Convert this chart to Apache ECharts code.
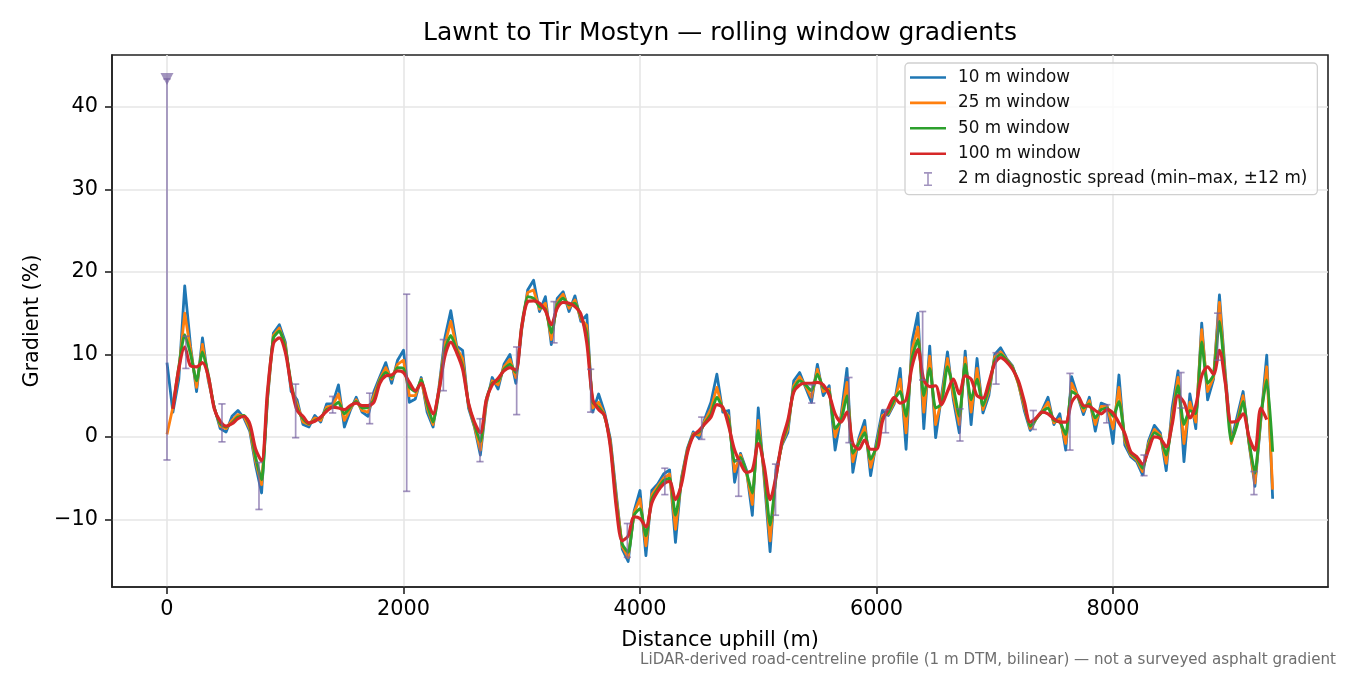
<!DOCTYPE html>
<html>
<head>
<meta charset="utf-8">
<title>Lawnt to Tir Mostyn — rolling window gradients</title>
<script src="https://cdn.jsdelivr.net/npm/echarts@6.0.0/dist/echarts.min.js"></script>
<style>
  html, body { margin: 0; padding: 0; background: #fff; }
  #chart { width: 1350px; height: 675px; }
</style>
</head>
<body>
<div id="chart"></div>
<script>
// sample spacing along the road (m)
const step = 50
const dist = []
for (let i = 0; i < 188; i++) dist.push(i * step)

// gradient (%) per rolling window, one value every 50 m
const w10 = [
  9.0, 3.0, 7.0, 18.3, 10.9, 5.5, 12.0, 6.8, 3.6, 1.0,
  0.6, 2.5, 3.2, 2.3, 0.7, -3.5, -6.8, 4.5, 12.6, 13.6,
  11.5, 5.5, 4.5, 1.5, 1.2, 2.6, 1.8, 4.0, 4.0, 6.3,
  1.2, 3.2, 4.8, 3.0, 2.5, 5.5, 7.3, 9.0, 6.5, 9.3,
  10.5, 4.2, 4.6, 7.2, 3.0, 1.2, 6.0, 12.0, 15.3, 11.0,
  10.5, 3.5, 1.2, -2.2, 4.0, 7.2, 5.8, 8.8, 10.0, 6.5,
  13.0, 17.8, 19.0, 15.2, 17.0, 11.2, 16.8, 17.6, 15.2, 17.1,
  14.0, 14.8, 3.0, 5.2, 3.0, -0.3, -7.0, -13.6, -15.1, -9.0,
  -6.5, -14.4, -6.5, -5.7, -4.5, -4.0, -12.8, -5.0, -1.4, 0.6,
  -0.2, 2.3, 4.2, 7.6, 3.0, 3.2, -5.5, -2.0, -4.0, -9.5,
  3.5, -5.0, -13.9, -4.0, -1.0, 0.5, 6.8, 7.8, 6.0, 4.2,
  8.8, 5.0, 6.2, -1.6, 2.6, 8.3, -4.3, -0.2, 2.0, -4.7,
  -0.5, 3.2, 2.6, 4.0, 8.3, -1.5, 11.5, 15.0, 1.0, 11.0,
  -0.1, 5.0, 10.3, 4.5, 0.5, 10.4, 1.5, 9.5, 2.9, 5.0,
  10.0, 10.8, 9.5, 8.6, 6.5, 3.2, 0.8, 2.2, 3.2, 4.8,
  1.5, 2.8, -1.6, 7.3, 5.0, 2.7, 4.8, 0.7, 4.1, 3.8,
  -0.8, 7.5, -1.0, -2.4, -3.0, -4.6, -0.5, 1.4, 0.5, -4.1,
  3.5, 8.0, -3.0, 5.2, 1.0, 13.8, 4.5, 7.0, 17.2, 7.6,
  -0.5, 2.5, 5.5, -0.8, -6.0, 2.0, 9.9, -7.5
]
const w25 = [
  0.3, 3.6, 8.0, 15.0, 10.5, 6.0, 11.2, 7.0, 3.5, 1.3,
  1.0, 2.0, 2.7, 2.5, 1.0, -3.0, -5.8, 4.8, 12.3, 13.2,
  11.2, 6.0, 4.0, 1.8, 1.5, 2.3, 2.0, 3.6, 3.8, 5.2,
  2.0, 3.4, 4.5, 3.2, 3.0, 5.0, 7.0, 8.4, 7.0, 8.8,
  9.3, 5.0, 5.0, 7.0, 3.5, 1.5, 5.8, 11.2, 14.0, 10.8,
  9.5, 3.8, 1.3, -1.6, 4.2, 6.8, 6.3, 8.5, 9.4, 7.2,
  13.2, 17.5, 17.8, 15.5, 16.2, 11.8, 16.4, 17.3, 15.6, 16.6,
  14.3, 13.5, 3.5, 4.2, 2.7, -0.6, -7.5, -13.3, -14.6, -9.2,
  -7.5, -13.2, -7.0, -6.0, -5.0, -4.5, -11.2, -5.2, -1.6, 0.4,
  0.2, 2.0, 3.4, 6.0, 3.3, 2.5, -4.2, -2.2, -4.3, -8.2,
  2.0, -4.5, -12.6, -4.5, -0.9, 1.0, 6.2, 7.3, 6.2, 4.8,
  8.2, 5.5, 5.8, 0.0, 2.3, 6.6, -3.0, -0.5, 1.2, -3.7,
  -1.0, 2.6, 2.8, 4.2, 7.0, 0.5, 10.5, 13.3, 3.0, 9.8,
  1.5, 4.5, 9.5, 5.0, 1.5, 9.6, 3.0, 8.3, 3.3, 5.5,
  9.7, 10.3, 9.4, 8.5, 6.4, 3.6, 1.0, 2.2, 3.1, 4.2,
  1.7, 2.2, -0.8, 6.5, 5.0, 3.1, 4.4, 1.5, 3.7, 3.7,
  1.0, 6.0, -0.5, -2.2, -2.8, -4.2, -0.8, 0.9, 0.2, -3.2,
  2.5, 7.2, -0.8, 4.2, 1.8, 13.0, 5.5, 7.2, 16.3, 7.2,
  -0.8, 1.8, 5.0, -0.7, -5.6, 2.2, 8.5, -6.4
]
const w50 = [
  null, 3.5, 8.5, 12.4, 10.0, 6.8, 10.3, 7.5, 3.5, 1.6,
  1.2, 1.7, 2.4, 2.6, 1.3, -2.5, -5.2, 5.0, 12.0, 12.8,
  10.8, 6.5, 3.5, 2.2, 1.6, 2.0, 2.3, 3.3, 3.6, 4.2,
  2.8, 3.6, 4.3, 3.5, 3.6, 4.5, 6.8, 7.8, 7.2, 8.4,
  8.3, 6.0, 5.5, 6.9, 4.0, 1.8, 5.5, 10.5, 12.3, 10.5,
  8.6, 4.0, 1.5, -0.6, 4.5, 6.5, 6.8, 8.2, 8.8, 7.8,
  13.5, 17.0, 16.8, 15.8, 15.5, 12.6, 16.0, 16.8, 16.0, 16.2,
  14.6, 12.5, 4.2, 3.6, 2.5, -1.0, -8.0, -13.0, -14.0, -9.5,
  -8.7, -12.0, -7.5, -6.3, -5.3, -5.0, -9.5, -5.5, -1.8, 0.2,
  0.6, 1.7, 2.8, 4.8, 3.5, 2.0, -3.0, -2.5, -4.3, -6.8,
  0.8, -4.0, -10.7, -5.0, -0.8, 1.5, 5.8, 6.8, 6.3, 5.6,
  7.6, 6.0, 5.5, 1.0, 2.0, 5.0, -2.0, -0.8, 0.5, -2.7,
  -1.2, 2.2, 3.0, 4.5, 5.5, 2.5, 9.5, 11.8, 5.0, 8.3,
  3.5, 4.0, 8.5, 6.0, 2.5, 8.8, 4.5, 7.0, 3.8, 6.0,
  9.3, 10.0, 9.3, 8.4, 6.6, 4.0, 1.3, 2.2, 3.0, 3.5,
  2.0, 1.8, 0.3, 5.5, 5.0, 3.5, 4.0, 2.3, 3.3, 3.5,
  2.5, 4.3, 0.0, -2.0, -2.6, -3.8, -1.2, 0.5, 0.0, -2.2,
  1.8, 6.2, 1.5, 3.2, 2.8, 11.5, 6.5, 7.5, 14.0, 6.8,
  -0.5, 1.5, 4.3, -0.5, -4.4, 2.5, 6.9, -1.8
]
const w100 = [
  null, 3.4, 8.3, 10.9, 8.6, 8.5, 9.0, 7.3, 3.4, 1.9,
  1.3, 1.6, 2.2, 2.5, 1.6, -1.5, -2.9, 5.5, 11.3, 12.0,
  10.3, 6.2, 3.2, 2.5, 1.7, 1.9, 2.4, 3.1, 3.6, 3.5,
  3.3, 3.8, 4.1, 3.8, 3.8, 4.2, 6.5, 7.4, 7.5, 8.0,
  7.8, 6.6, 5.6, 6.5, 4.5, 2.8, 5.6, 9.8, 11.5, 10.2,
  8.2, 4.1, 1.8, 0.5, 4.5, 6.3, 7.1, 8.0, 8.4, 8.1,
  13.4, 16.4, 16.5, 16.2, 15.3, 13.6, 15.6, 16.3, 16.2, 15.8,
  14.9, 11.4, 4.6, 3.3, 2.6, -1.3, -8.6, -12.6, -12.0, -9.7,
  -9.9, -10.9, -8.0, -6.6, -5.7, -5.4, -7.6, -5.8, -2.0, 0.1,
  0.8, 1.6, 2.4, 3.9, 3.6, 1.3, -1.6, -3.2, -4.3, -4.0,
  -0.8, -3.5, -7.6, -4.8, -0.5, 2.0, 5.4, 6.3, 6.5, 6.5,
  6.6, 6.3, 5.1, 2.8, 1.8, 3.0, -0.8, -1.5, -0.4, -1.5,
  -1.5, 1.9, 3.5, 4.8, 4.1, 4.5, 8.5, 10.6, 6.9, 6.1,
  6.2, 3.9, 5.5, 7.0, 5.2, 7.4, 7.0, 5.0, 4.7, 6.6,
  8.9, 9.6, 9.1, 8.2, 6.8, 4.3, 1.8, 2.3, 3.0, 2.8,
  2.2, 1.8, 1.8, 4.2, 5.0, 3.8, 3.7, 3.2, 2.8, 3.3,
  2.9, 1.7, 0.4, -1.8, -2.4, -3.3, -1.6, 0.0, -0.2, -1.2,
  1.5, 5.0, 4.2, 2.3, 3.8, 7.4, 8.5, 7.6, 10.5, 6.5,
  1.8, 1.9, 2.8, 0.0, -1.6, 3.5, 2.1, null
]

// 2 m diagnostic spread: min and max within +-12 m of each check point
const errDist = [0, 160, 465, 778, 1088, 1401, 1714, 2027, 2337, 2647, 2957, 3273, 3583, 3893, 4210,
  4522, 4834, 5146, 5452, 5767, 6077, 6390, 6706, 7011, 7326, 7636, 7947, 8262, 8575, 8885, 9192]
const errLow = [-2.8, 8.3, -0.6, -8.8, -0.1, 2.9, 1.6, -6.6, 5.6, -3.0, 2.7, 11.4, 3.0, -14.6, -7.0,
  -0.3, -7.2, -9.5, 4.1, -0.7, 0.5, 6.9, -0.5, 6.4, 0.9, -1.6, 1.7, -4.7, 3.5, 9.3, -7.0]
const errHigh = [43.4, 12.2, 4.0, -3.1, 6.4, 4.9, 5.3, 17.3, 11.8, 2.2, 10.9, 16.4, 8.2, -10.5, -3.8,
  2.4, -2.9, -3.3, 6.3, 7.2, 3.3, 15.2, 3.4, 10.2, 3.2, 7.7, 3.9, -2.2, 7.8, 15.0, -4.2]

const xTicks = [0, 2000, 4000, 6000, 8000]
const yTicks = [-10, 0, 10, 20, 30, 40]

const font = 'DejaVu Sans'
const errColor = 'rgba(118, 98, 160, 0.68)'
const lineIcon = 'path://M0,0h36v2.6h-36z'
const barIcon = 'path://M0,0h8v1.6h-3.2v10.8h3.2v1.6h-8v-1.6h3.2v-10.8h-3.2z'

// pair distances with values, drop the gaps at the ends
function pairs(values) {
  const out = []
  values.forEach((v, i) => { if (v !== null) out.push([dist[i], v]) })
  return out
}

function lineSeries(name, values, color, width, smooth, z) {
  return {
    name: name,
    type: 'line',
    data: pairs(values),
    showSymbol: false,
    smooth: smooth,
    z: z,
    itemStyle: { color: color },
    lineStyle: { color: color, width: width, join: 'round' }
  }
}

const dom = document.querySelector('#chart')
const myChart = echarts.init(dom)

const option = {
  animation: false,
  backgroundColor: '#fff',
  textStyle: { fontFamily: font },
  grid: {
    left: 112, right: 22, top: 55, bottom: 88,
    show: true, borderColor: '#222', borderWidth: 1.6, backgroundColor: 'transparent'
  },
  graphic: [
    {
      type: 'text', x: 720, y: 33,
      style: {
        text: 'Lawnt to Tir Mostyn — rolling window gradients',
        font: '25px "DejaVu Sans"', fill: '#000',
        textAlign: 'center', textVerticalAlign: 'middle', align: 'center', verticalAlign: 'middle'
      }
    },
    {
      type: 'text', x: 1336, y: 660,
      style: {
        text: 'LiDAR-derived road-centreline profile (1 m DTM, bilinear) — not a surveyed asphalt gradient',
        font: '15.1px "DejaVu Sans"', fill: '#6e6e6e',
        textAlign: 'right', textVerticalAlign: 'middle', align: 'right', verticalAlign: 'middle'
      }
    }
  ],
  legend: {
    orient: 'vertical',
    left: 905, top: 63,
    padding: [6, 10, 7, 5],
    itemWidth: 36, itemHeight: 14, itemGap: 8.4,
    backgroundColor: 'rgba(255,255,255,0.8)',
    borderColor: '#d0d0d0', borderWidth: 1.3, borderRadius: 4,
    textStyle: { fontFamily: font, fontSize: 16.8, color: '#111', padding: [0, 0, 0, 7] },
    data: [
      { name: '10 m window', icon: lineIcon },
      { name: '25 m window', icon: lineIcon },
      { name: '50 m window', icon: lineIcon },
      { name: '100 m window', icon: lineIcon },
      { name: '2 m diagnostic spread (min–max, ±12 m)', icon: barIcon }
    ]
  },
  xAxis: {
    type: 'value',
    min: -465, max: 9818,
    name: 'Distance uphill (m)',
    nameLocation: 'middle', nameGap: 43,
    nameTextStyle: { fontFamily: font, fontSize: 20.8, color: '#000' },
    axisLine: { show: true, onZero: false, lineStyle: { color: '#222', width: 1.6 } },
    axisTick: { show: true, inside: false, length: 7, customValues: xTicks, lineStyle: { color: '#222', width: 1.6 } },
    axisLabel: {
      customValues: xTicks, margin: 12, fontFamily: font, fontSize: 20.8, color: '#000',
      formatter: v => String(v)
    },
    splitLine: { show: true, lineStyle: { color: '#e6e6e6', width: 1.6 } }
  },
  yAxis: {
    type: 'value',
    min: -18.2, max: 46.3,
    name: 'Gradient (%)',
    nameLocation: 'middle', nameGap: 68,
    nameTextStyle: { fontFamily: font, fontSize: 20.8, color: '#000' },
    axisLine: { show: true, onZero: false, lineStyle: { color: '#222', width: 1.6 } },
    axisTick: { show: true, inside: false, length: 7, customValues: yTicks, lineStyle: { color: '#222', width: 1.6 } },
    axisLabel: {
      customValues: yTicks, margin: 14, fontFamily: font, fontSize: 20.8, color: '#000',
      formatter: v => (v < 0 ? '\u2212' + Math.abs(v) : String(v))
    },
    splitLine: { show: true, lineStyle: { color: '#e6e6e6', width: 1.6 } }
  },
  series: [
    lineSeries('10 m window', w10, '#1f77b4', 2.8, false, 2),
    lineSeries('25 m window', w25, '#ff7f0e', 2.8, false, 3),
    lineSeries('50 m window', w50, '#2ca02c', 2.9, 0.2, 4),
    lineSeries('100 m window', w100, '#d62728', 3.2, 0.3, 5),
    {
      // min-max bars with caps
      name: '2 m diagnostic spread (min–max, ±12 m)',
      type: 'custom',
      z: 6,
      itemStyle: { color: errColor },
      encode: { x: 0, y: [1, 2] },
      data: errDist.map((d, i) => [d, errLow[i], errHigh[i]]),
      renderItem: function (params, api) {
        const lo = api.coord([api.value(0), api.value(1)])
        const hi = api.coord([api.value(0), api.value(2)])
        const cap = 3.6
        const style = { stroke: errColor, lineWidth: 1.7, fill: null }
        return {
          type: 'group',
          children: [
            { type: 'line', shape: { x1: lo[0], y1: lo[1], x2: hi[0], y2: hi[1] }, style: style },
            { type: 'line', shape: { x1: lo[0] - cap, y1: lo[1], x2: lo[0] + cap, y2: lo[1] }, style: style },
            { type: 'line', shape: { x1: hi[0] - cap, y1: hi[1], x2: hi[0] + cap, y2: hi[1] }, style: style }
          ]
        }
      }
    },
    {
      // marker on the first check point's upper end
      type: 'scatter',
      z: 7,
      symbol: 'triangle',
      symbolRotate: 180,
      symbolSize: [13, 12],
      itemStyle: { color: 'rgba(118, 98, 160, 0.85)' },
      data: [[errDist[0], errHigh[0]]]
    }
  ]
}

myChart.setOption(option)
</script>
</body>
</html>
